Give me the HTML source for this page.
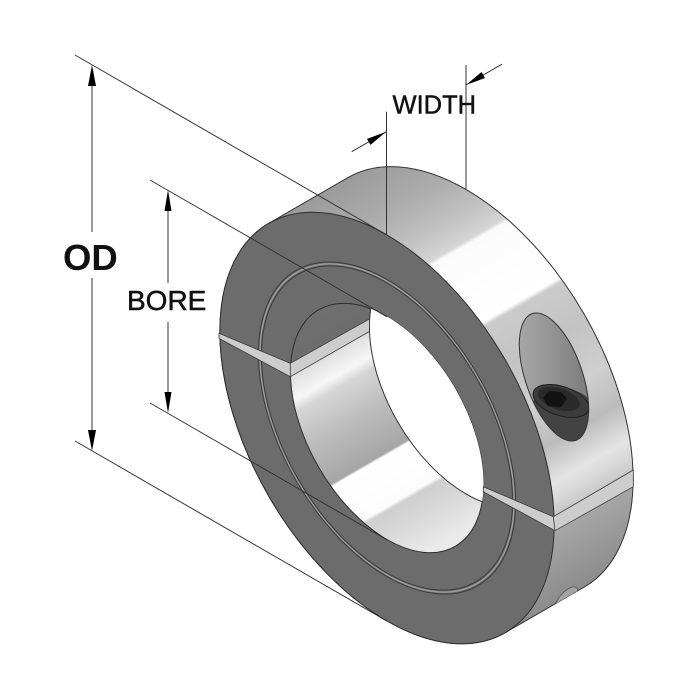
<!DOCTYPE html>
<html><head><meta charset="utf-8"><style>
html,body{margin:0;padding:0;background:#fff;width:700px;height:700px;overflow:hidden;}
svg{display:block;position:absolute;left:0;top:0;}
text{font-family:"Liberation Sans",Arial,sans-serif;fill:#111;}
</style></head><body>
<svg width="700" height="700" viewBox="0 0 700 700" xmlns="http://www.w3.org/2000/svg">
<defs>
  <linearGradient id="og" gradientUnits="userSpaceOnUse" x1="-136.47" y1="-136.47" x2="136.47" y2="136.47">
    <stop offset="0" stop-color="#9b9b9b"/>
    <stop offset="0.11" stop-color="#adadad"/>
    <stop offset="0.195" stop-color="#c4c4c4"/>
    <stop offset="0.24" stop-color="#d5d5d5"/>
    <stop offset="0.249" stop-color="#fbfbfb"/>
    <stop offset="0.407" stop-color="#ffffff"/>
    <stop offset="0.417" stop-color="#cbcbcb"/>
    <stop offset="0.512" stop-color="#c3c3c3"/>
    <stop offset="0.618" stop-color="#cfcfcf"/>
    <stop offset="0.703" stop-color="#bcbcbc"/>
    <stop offset="0.777" stop-color="#e4e4e4"/>
    <stop offset="0.813" stop-color="#d6d6d6"/>
    <stop offset="0.838" stop-color="#c8c8c8"/>
    <stop offset="0.84" stop-color="#cdcdcd"/>
    <stop offset="0.866" stop-color="#cdcdcd"/>
    <stop offset="0.868" stop-color="#a6a6a6"/>
    <stop offset="1" stop-color="#8c8c8c"/>
  </linearGradient>
  <linearGradient id="ig" gradientUnits="userSpaceOnUse" x1="-136.47" y1="-136.47" x2="136.47" y2="136.47">
    <stop offset="0" stop-color="#777777"/>
    <stop offset="0.27" stop-color="#6d6d6d"/>
    <stop offset="0.28" stop-color="#6d6d6d"/>
    <stop offset="0.30" stop-color="#dcdcdc"/>
    <stop offset="0.322" stop-color="#e8e8e8"/>
    <stop offset="0.352" stop-color="#f6f6f6"/>
    <stop offset="0.375" stop-color="#d6d6d6"/>
    <stop offset="0.449" stop-color="#bdbdbd"/>
    <stop offset="0.544" stop-color="#a6a6a6"/>
    <stop offset="0.549" stop-color="#ffffff"/>
    <stop offset="0.644" stop-color="#fcfcfc"/>
    <stop offset="0.652" stop-color="#cfcfcf"/>
    <stop offset="0.703" stop-color="#d9d9d9"/>
    <stop offset="0.77" stop-color="#eaeaea"/>
    <stop offset="1" stop-color="#f0f0f0"/>
  </linearGradient>
  <linearGradient id="hg" gradientUnits="userSpaceOnUse" x1="515" y1="0" x2="592" y2="0">
    <stop offset="0" stop-color="#a9a9a9"/>
    <stop offset="0.5" stop-color="#929292"/>
    <stop offset="1" stop-color="#7a7a7a"/>
  </linearGradient>
  <clipPath id="ci"><circle cx="0" cy="0" r="111.5"/></clipPath>
  <clipPath id="hc"><ellipse cx="554" cy="377" rx="67" ry="28.5" transform="rotate(71 554 377)"/></clipPath>
  <clipPath id="sil"><path transform="matrix(0.866 0.5 0 1 387 428)" d="M136.47 136.47 L227.67 45.27 A193 193 0 0 0 227.67 -227.67 A193 193 0 0 0 -45.27 -227.67 L-136.47 -136.47 A193 193 0 0 0 -136.47 136.47 A193 193 0 0 0 136.47 136.47 Z"/></clipPath>
</defs>

<!-- collar body -->
<g transform="matrix(0.866 0.5 0 1 387 428)">
  <path d="M136.47 136.47 L227.67 45.27 A193 193 0 0 0 227.67 -227.67 A193 193 0 0 0 -45.27 -227.67 L-136.47 -136.47 A193 193 0 0 0 -136.47 136.47 A193 193 0 0 0 136.47 136.47 Z" fill="url(#og)" stroke="#333" stroke-width="1" vector-effect="non-scaling-stroke"/>
  <circle cx="0" cy="0" r="193" fill="#6c6c6c" stroke="#2e2e2e" stroke-width="1" vector-effect="non-scaling-stroke"/>
  <circle cx="0" cy="0" r="148.5" fill="none" stroke="#3a3a3a" stroke-width="1" vector-effect="non-scaling-stroke"/>
  <circle cx="0" cy="0" r="146.8" fill="none" stroke="#a2a2a2" stroke-width="1.2" vector-effect="non-scaling-stroke"/>
  <circle cx="0" cy="0" r="145" fill="none" stroke="#3a3a3a" stroke-width="1" vector-effect="non-scaling-stroke"/>
  <circle cx="0" cy="0" r="111.5" fill="url(#ig)" stroke="#2e2e2e" stroke-width="1" vector-effect="non-scaling-stroke"/>
  <circle cx="91.2" cy="-91.2" r="111.5" fill="#ffffff" stroke="#333" stroke-width="1" vector-effect="non-scaling-stroke" clip-path="url(#ci)"/>
</g>

<!-- split gaps -->
<polygon points="219,333.3 290.3,363.3 369.4,319 369.4,331.5 290.3,376.7 219,338.3" fill="#cdcdcd" stroke="#3a3a3a" stroke-width="0.8"/>
<polygon points="483.3,486.7 553.3,516.7 633.3,470 633.3,486.7 555,530.7 483.3,491.7" fill="#cdcdcd" stroke="#3a3a3a" stroke-width="0.8"/>
<line x1="290.3" y1="363.3" x2="290.3" y2="376.7" stroke="#3a3a3a" stroke-width="0.8"/>
<line x1="553.3" y1="516.7" x2="555" y2="530.7" stroke="#3a3a3a" stroke-width="0.8"/>

<!-- screw hole -->
<g clip-path="url(#hc)">
  <rect x="480" y="300" width="130" height="160" fill="url(#hg)"/>
  <ellipse cx="566" cy="416" rx="36" ry="27" transform="rotate(20 566 416)" fill="#434343"/>
  <ellipse cx="561" cy="401" rx="29" ry="14.5" transform="rotate(18 561 401)" fill="#3c3c3c" stroke="#1e1e1e" stroke-width="1"/>
  <ellipse cx="559" cy="399" rx="22" ry="10.5" transform="rotate(18 559 399)" fill="#2a2a2a"/>
  <polygon points="543,398 549,391 561,392 567,399 561,407 548,406" fill="#121212"/>
</g>
<ellipse cx="554" cy="377" rx="67" ry="28.5" transform="rotate(71 554 377)" fill="none" stroke="#333" stroke-width="1"/>

<!-- small hole bottom -->
<g clip-path="url(#sil)">
  <ellipse cx="566" cy="600" rx="16" ry="7" transform="rotate(-50 566 600)" fill="#a4a4a4" stroke="#555" stroke-width="0.8"/>
</g>

<!-- extension lines -->
<g stroke="#333" stroke-width="1" fill="none">
  <line x1="75" y1="55" x2="387" y2="235.1"/>
  <line x1="75" y1="441" x2="387" y2="621.1"/>
  <line x1="150" y1="180" x2="387" y2="316.8"/>
  <line x1="150" y1="403" x2="387" y2="539.8"/>
  <line x1="386.5" y1="111.7" x2="386.5" y2="235"/>
  <line x1="466" y1="65" x2="466" y2="189.4"/>
  <line x1="351.7" y1="151.7" x2="386" y2="131.9"/>
  <line x1="466" y1="85" x2="502" y2="64.2"/>
</g>
<!-- dimension lines -->
<g stroke="#777" stroke-width="1.5">
  <line x1="92" y1="84" x2="92" y2="232"/>
  <line x1="92" y1="278" x2="92" y2="432"/>
  <line x1="168" y1="209" x2="168" y2="283"/>
  <line x1="168" y1="322" x2="168" y2="394"/>
</g>
<g fill="#000">
  <polygon points="92,65 88,86 96,86"/>
  <polygon points="92,451 88,430 96,430"/>
  <polygon points="168,190 164.5,211 171.5,211"/>
  <polygon points="168,413 164.5,392 171.5,392"/>
  <polygon points="386,131.9 370.45,144.9 366.95,138.9"/>
  <polygon points="466,85 485.05,78.03 481.55,71.97"/>
</g>

<!-- labels -->
<text x="63" y="270" font-size="36.5" font-weight="bold">OD</text>
<text x="127" y="310" font-size="28" stroke="#111" stroke-width="0.5">BORE</text>
<text x="392.5" y="113.3" font-size="25.5" stroke="#111" stroke-width="0.45">WIDTH</text>
</svg>
</body></html>
